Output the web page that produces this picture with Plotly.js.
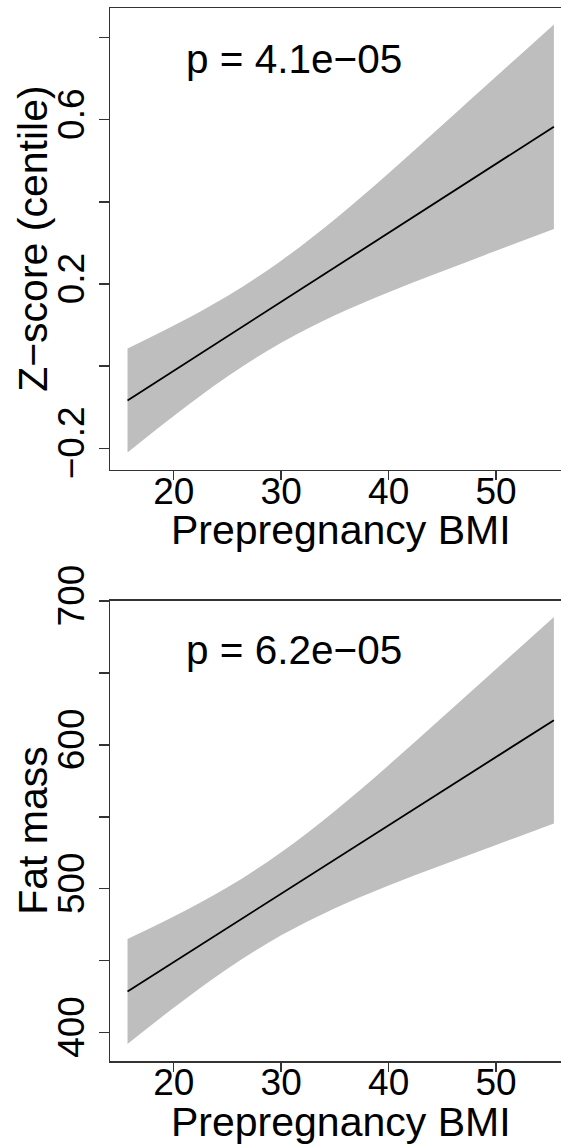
<!DOCTYPE html>
<html>
<head>
<meta charset="utf-8">
<script src="https://cdn.plot.ly/plotly-3.0.1.min.js"></script>
<style>
html, body { margin: 0; padding: 0; overflow: hidden; background: #fff; }
#chart { width: 582px; height: 1147px; }
</style>
</head>
<body>
<div id="chart"></div>
<script>
// Prepregnancy BMI grid (x values)
var bmiBand = [15.7, 20, 25, 30, 35, 40, 45, 50, 55.38];
var bmiLine = [15.7, 55.38];

// Panel 1: Z-score (centile)
var zLine = [-0.0835, 0.583];
var zUpper = [0.043, 0.099, 0.171, 0.257, 0.358, 0.470, 0.587, 0.705, 0.832];
var zLower = [-0.210, -0.121, -0.025, 0.057, 0.124, 0.180, 0.231, 0.281, 0.334];
var zTickVals = [-0.2, 0, 0.2, 0.4, 0.6, 0.8];
var zTickText = ['\u22120.2', '', '0.2', '', '0.6', ''];
var zTitle = 'Z\u2212score (centile)';
var zP = 'p = 4.1e\u221205';

// Panel 2: Fat mass
var fmLine = [428.5, 617.2];
var fmUpper = [465.0, 480.6, 501.0, 525.4, 554.1, 585.9, 619.3, 652.8, 689.0];
var fmLower = [392.0, 417.2, 444.4, 467.6, 486.5, 502.3, 516.5, 530.4, 545.4];
var fmTickVals = [400, 450, 500, 550, 600, 650, 700];
var fmTickText = ['400', '', '500', '', '600', '', '700'];
var fmTitle = 'Fat mass';
var fmP = 'p = 6.2e\u221205';

var xTickVals = [20, 30, 40, 50];
var xTitle = 'Prepregnancy BMI';

var FONT = 'Liberation Sans, Arial, Helvetica, sans-serif';
var bandColor = '#bebebe';
var TICK = 37, TITLE = 41, PTXT = 40.5;

var traces = [
  {x: bmiBand, y: zLower, xaxis: 'x', yaxis: 'y', mode: 'lines', line: {width: 0, shape: 'spline', color: bandColor}, hoverinfo: 'skip', showlegend: false},
  {x: bmiBand, y: zUpper, xaxis: 'x', yaxis: 'y', mode: 'lines', fill: 'tonexty', fillcolor: bandColor, line: {width: 0, shape: 'spline', color: bandColor}, hoverinfo: 'skip', showlegend: false},
  {x: bmiLine, y: zLine, xaxis: 'x', yaxis: 'y', mode: 'lines', line: {width: 1.8, color: '#000'}, showlegend: false},
  {x: bmiBand, y: fmLower, xaxis: 'x2', yaxis: 'y2', mode: 'lines', line: {width: 0, shape: 'spline', color: bandColor}, hoverinfo: 'skip', showlegend: false},
  {x: bmiBand, y: fmUpper, xaxis: 'x2', yaxis: 'y2', mode: 'lines', fill: 'tonexty', fillcolor: bandColor, line: {width: 0, shape: 'spline', color: bandColor}, hoverinfo: 'skip', showlegend: false},
  {x: bmiLine, y: fmLine, xaxis: 'x2', yaxis: 'y2', mode: 'lines', line: {width: 1.8, color: '#000'}, showlegend: false}
];

function xAxis(anchor) {
  return {
    anchor: anchor, range: [14.07, 56.97], domain: [0, 1],
    tickvals: xTickVals, ticks: 'outside', ticklen: 9, tickwidth: 1.5, tickcolor: '#333',
    ticklabelstandoff: -21,
    showline: true, mirror: true, linecolor: '#333', linewidth: 1.5,
    showgrid: false, zeroline: false,
    tickfont: {family: FONT, size: TICK, color: '#000'},
    automargin: false
  };
}
function yAxis(anchor, range, dom, vals, txt) {
  return {
    anchor: anchor, range: range, domain: dom,
    tickvals: vals, ticktext: txt, tickangle: -90,
    ticks: 'outside', ticklen: 10, tickwidth: 1.5, tickcolor: '#333',
    showline: true, mirror: true, linecolor: '#333', linewidth: 1.5,
    showgrid: false, zeroline: false,
    tickfont: {family: FONT, size: TICK, color: '#000'},
    automargin: false
  };
}

function titleAnn(text, xref, yref, x, y, xshift, yshift, angle) {
  return {xref: xref, yref: yref, x: x, y: y, xshift: xshift, yshift: yshift,
    xanchor: 'center', yanchor: 'middle', textangle: angle, text: text, showarrow: false,
    font: {family: FONT, size: TITLE, color: '#000'}};
}

var layout = {
  width: 582, height: 1147,
  margin: {l: 110, r: 11, t: 8, b: 86},
  paper_bgcolor: '#fff', plot_bgcolor: '#fff',
  showlegend: false,
  xaxis: xAxis('y'),
  yaxis: yAxis('x', [-0.252, 0.872], [0.5615, 1], zTickVals, zTickText),
  xaxis2: xAxis('y2'),
  yaxis2: yAxis('x2', [380.2, 700.4], [0, 0.4373], fmTickVals, fmTickText),
  annotations: [
    {xref: 'x', yref: 'y', x: 31.2, y: 0.748, text: zP, showarrow: false, font: {family: FONT, size: PTXT, color: '#000'}},
    {xref: 'x2', yref: 'y2', x: 31.2, y: 666.3, text: fmP, showarrow: false, font: {family: FONT, size: PTXT, color: '#000'}},
    titleAnn(xTitle, 'x domain', 'y domain', 0.5, 0, 0, -60.5, 0),
    titleAnn(xTitle, 'x2 domain', 'y2 domain', 0.5, 0, 0, -60.5, 0),
    titleAnn(zTitle, 'x domain', 'y domain', 0, 0.5, -77, 0, -90),
    titleAnn(fmTitle, 'x2 domain', 'y2 domain', 0, 0.5, -77, 0, -90)
  ]
};

Plotly.newPlot('chart', traces, layout, {staticPlot: true, displayModeBar: false});
</script>
</body>
</html>
